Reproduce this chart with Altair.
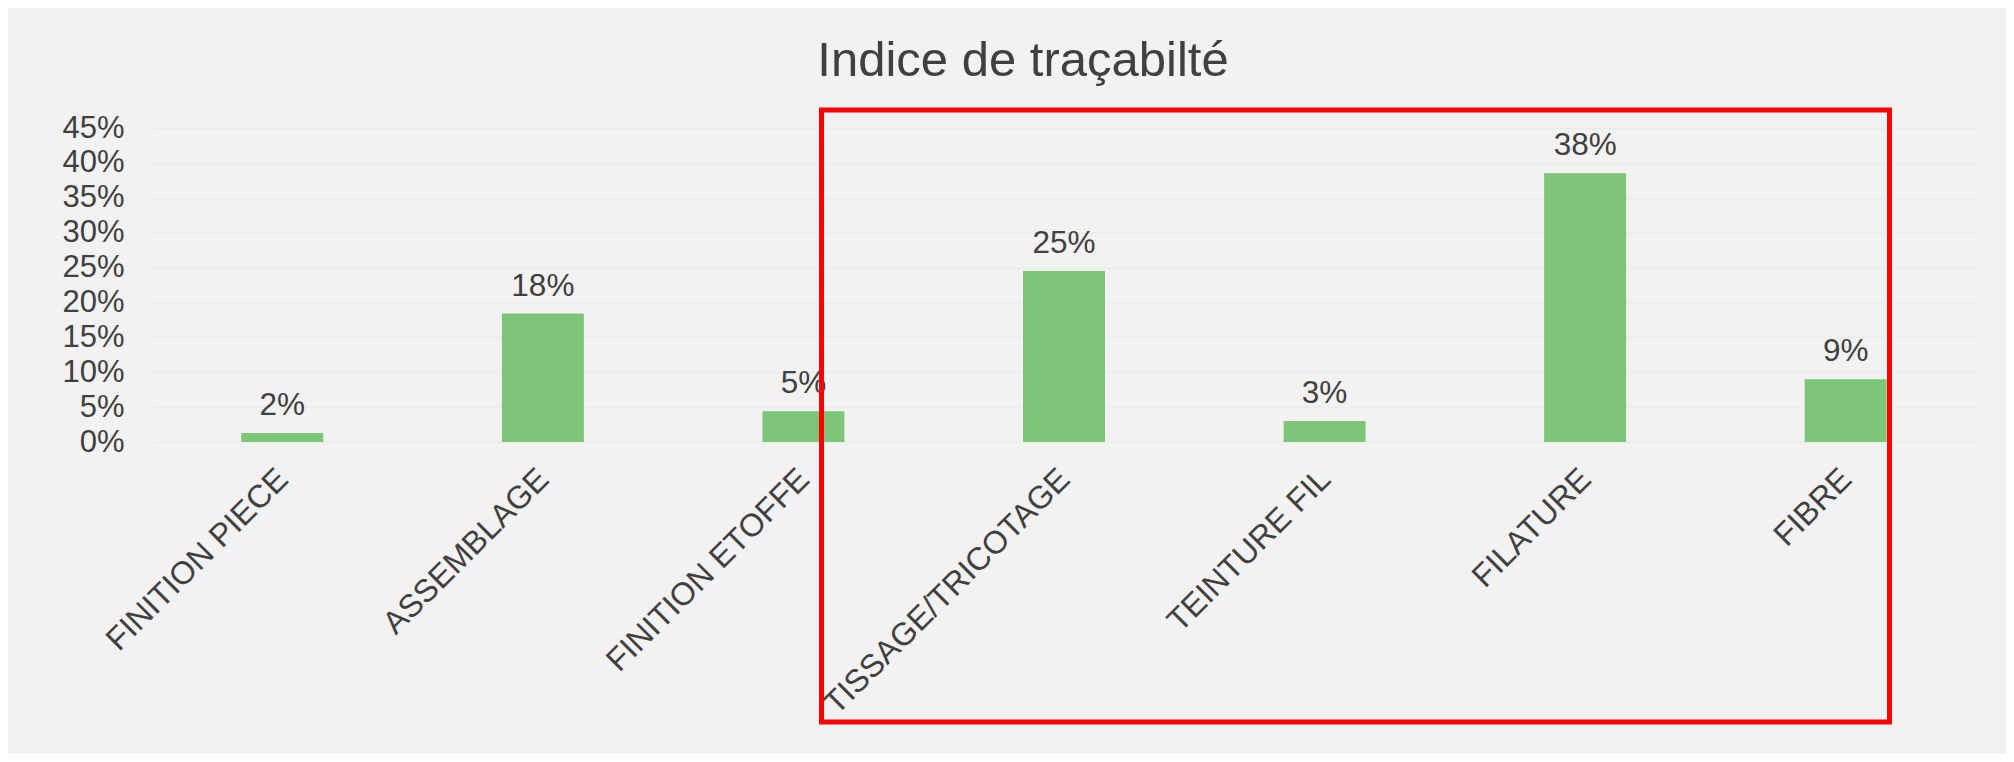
import altair as alt
import pandas as pd

# ---- data ----
categories = ["FINITION PIECE", "ASSEMBLAGE", "FINITION ETOFFE", "TISSAGE/TRICOTAGE",
              "TEINTURE FIL", "FILATURE", "FIBRE"]
values = [0.013, 0.184, 0.044, 0.245, 0.030, 0.385, 0.090]
value_labels = ["2%", "18%", "5%", "25%", "3%", "38%", "9%"]
y_ticks = [0, 0.05, 0.10, 0.15, 0.20, 0.25, 0.30, 0.35, 0.40, 0.45]
title_text = "Indice de traçabilté"

FONT = "Liberation Sans, Arial, sans-serif"
TEXT = "#404040"
BAR = "#7DC577"
GRID = "#E6F0E6"
BG = "#F2F2F2"

df = pd.DataFrame({"cat": categories, "val": values, "lab": value_labels})

x_axis = alt.Axis(labelAngle=-45, labelAlign="right", labelBaseline="top",
                  labelPadding=21, labelOffset=-10, ticks=False, domain=False,
                  grid=False, labelFontSize=32, labelColor=TEXT, labelFont=FONT,
                  labelLimit=1000, labelOverlap=False)
y_axis = alt.Axis(values=y_ticks, format=".0%", ticks=False, domain=False,
                  grid=True, gridColor=GRID, gridWidth=1.5, labelFontSize=31,
                  labelColor=TEXT, labelFont=FONT, labelPadding=28,
                  labelOverlap=False)

x_enc = alt.X("cat:N", sort=categories, title=None,
              scale=alt.Scale(paddingInner=0, paddingOuter=0), axis=x_axis)
y_enc = alt.Y("val:Q", title=None,
              scale=alt.Scale(domain=[0, 0.45], nice=False), axis=y_axis)

base = alt.Chart(df).encode(x=x_enc, y=y_enc)

bars = base.mark_bar(size=82, color=BAR)

labels = base.mark_text(fontSize=31.5, font=FONT, color=TEXT, baseline="alphabetic",
                        dy=-18).encode(text="lab:N")

single = pd.DataFrame({"t": [title_text]})

title_mark = alt.Chart(single).mark_text(
    fontSize=49, font=FONT, color=TEXT, align="center", baseline="alphabetic"
).encode(x=alt.value(871), y=alt.value(-52), text="t:N")

highlight = alt.Chart(single).mark_rect(
    filled=False, stroke="#FF0000", strokeWidth=5, clip=False
).encode(
    x=alt.value(669.5), x2=alt.value(1737.5),
    y=alt.value(-18), y2=alt.value(594),
)

chart = alt.layer(bars, labels, title_mark, highlight).properties(
    width=1824,
    height=314,
    padding={"left": 144, "top": 120, "right": 30, "bottom": 312},
    autosize=alt.AutoSizeParams(type="none"),
).configure(background=BG).configure_view(stroke=None)

chart.save("out.html", embed_options={"renderer": "svg", "actions": False})
